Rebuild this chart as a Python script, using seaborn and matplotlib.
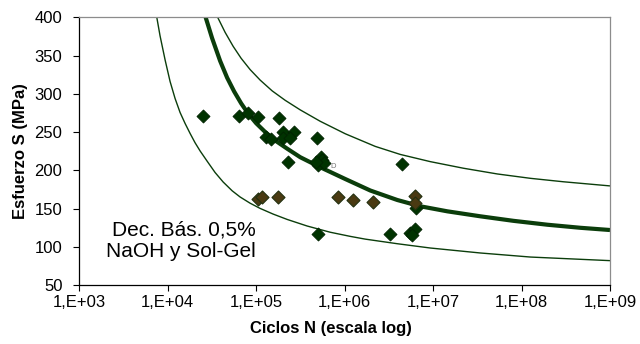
import matplotlib
matplotlib.use("Agg")
import matplotlib.pyplot as plt
import seaborn as sns
import pandas as pd

# ---------------- data ----------------
# measured specimens (dark green series)
green_N = [2.54e4, 6.49e4, 8.07e4, 1.04e5, 1.83e5, 1.30e5, 1.47e5, 2.01e5, 2.04e5,
           2.65e5, 2.43e5, 4.87e5, 2.29e5, 5.04e5, 5.41e5, 5.59e5, 5.89e5, 4.79e5,
           5.00e5, 4.46e6, 6.47e6, 3.23e6, 5.54e6, 6.31e6, 5.78e6]
green_S = [271, 271, 275, 270, 268, 244, 241, 250, 243,
           250, 243, 242, 211, 207, 218, 214, 210, 211,
           117, 208, 151, 117, 118, 123, 116]
# second series (brown)
brown_N = [1.04e5, 1.16e5, 1.75e5, 8.42e5, 1.26e6, 2.10e6, 6.31e6, 6.31e6]
brown_S = [163, 165, 165, 165, 162, 159, 166, 158]

# S-N curve (mean) and bounds
mean_N = [2.692e4, 3.184e4, 3.926e4, 4.710e4, 5.649e4, 6.776e4, 8.147e4, 1.002e5,
          1.268e5, 1.644e5, 2.249e5, 3.155e5, 5.309e5, 1.019e6, 1.954e6, 3.945e6,
          7.178e6, 1.452e7, 3.428e7, 8.091e7, 1.963e8, 4.634e8, 1.0e9]
mean_S = [400, 372.8, 343.0, 321.1, 303.2, 287.7, 274.2, 261.7,
          250.2, 239.1, 228.4, 217.3, 204.2, 188.8, 173.8, 161.4,
          153.2, 146.6, 140.1, 134.2, 129.1, 125.1, 122.2]
upper_N = [3.681e4, 4.467e4, 5.508e4, 6.776e4, 8.570e4, 1.112e5, 1.521e5, 2.133e5,
           3.155e5, 5.309e5, 1.019e6, 2.223e6, 4.266e6, 9.311e6, 2.203e7, 5.333e7,
           1.262e8, 2.979e8, 1.0e9]
upper_S = [400, 380.4, 362.1, 346.5, 331.7, 318.0, 303.9, 291.6,
           279.1, 264.2, 247.9, 231.4, 220.9, 211.5, 202.9, 195.4,
           189.7, 185.2, 179.8]
lower_N = [7.55e3, 8.22e3, 9.38e3, 1.067e4, 1.216e4, 1.384e4, 1.578e4, 1.799e4,
           2.046e4, 2.333e4, 2.799e4, 3.443e4, 4.246e4, 5.370e4, 6.607e4, 8.570e4,
           1.112e5, 1.560e5, 2.249e5, 3.784e5, 6.887e5, 1.159e6, 1.714e6, 3.945e6,
           9.311e6, 3.428e7, 1.262e8, 1.0e9]
lower_S = [400, 375.8, 344.2, 316.2, 293.9, 275.7, 261.3, 248.2,
           236.1, 225.4, 212.1, 197.3, 184.9, 173.4, 165.3, 157.2,
           150.4, 143.0, 136.0, 127.4, 119.3, 113.9, 110.3, 104.3,
           98.7, 92.2, 86.9, 82.2]

x_ticks = [1e3, 1e4, 1e5, 1e6, 1e7, 1e8, 1e9]
x_tick_labels = ["1,E+03", "1,E+04", "1,E+05", "1,E+06", "1,E+07", "1,E+08", "1,E+09"]
y_ticks = [50, 100, 150, 200, 250, 300, 350, 400]

annotation = "Dec. Bás. 0,5%\nNaOH y Sol-Gel"
x_label = "Ciclos N (escala log)"
y_label = "Esfuerzo S (MPa)"

# ---------------- style ----------------
sns.set_theme(style="white")
plt.rcParams["font.family"] = ["Liberation Sans", "DejaVu Sans"]

fig = plt.figure(figsize=(6.4, 3.44), dpi=100)
ax = fig.add_axes([79.1 / 640, 1 - 285.3 / 344, (610 - 79.1) / 640, (285.3 - 17.3) / 344])

green = "#003300"
curve_col = "#0b3d0b"

curves = [(lower_N, lower_S, 1.0), (upper_N, upper_S, 1.0), (mean_N, mean_S, 3.0)]
for cn, cs, lw in curves:
    df = pd.DataFrame({"N": cn, "S": cs})
    line_ax = sns.lineplot(data=df, x="N", y="S", sort=False, estimator=None, ax=ax,
                           color=curve_col, linewidth=lw, zorder=2)
for ln in ax.lines:
    ln.set_solid_joinstyle("round")
    ln.set_solid_capstyle("butt")

dg = pd.DataFrame({"N": green_N, "S": green_S})
db = pd.DataFrame({"N": brown_N, "S": brown_S})
sns.scatterplot(data=dg, x="N", y="S", ax=ax, marker="D", s=44,
                color=green, edgecolor="#002200", linewidth=0.6, zorder=3)
sns.scatterplot(data=db, x="N", y="S", ax=ax, marker="D", s=44,
                color="#4a3a12", edgecolor="#223010", linewidth=0.8, zorder=3)

ax.set_xscale("log")
ax.set_xlim(1e3, 1e9)
ax.set_ylim(50, 400)
ax.set_xticks(x_ticks)
ax.set_xticklabels(x_tick_labels)
ax.minorticks_off()
ax.set_yticks(y_ticks)
ax.set_yticklabels([str(v) for v in y_ticks])

ax.tick_params(axis="both", which="major", direction="out", length=4, width=0.8,
               color="black", labelsize=12, labelcolor="black")
ax.tick_params(axis="x", pad=3, bottom=True)
ax.tick_params(axis="y", pad=8, left=True)

for side in ["left", "bottom"]:
    ax.spines[side].set_color("black")
    ax.spines[side].set_linewidth(0.9)
for side in ["top", "right"]:
    ax.spines[side].set_color("#8c8c8c")
    ax.spines[side].set_linewidth(0.9)

ax.set_xlabel(x_label, fontsize=12, fontweight="bold", color="black")
ax.set_ylabel(y_label, fontsize=12, fontweight="bold", color="black")
ax.xaxis.set_label_coords((331 - 79.1) / 530.9, (285.3 - 328) / 268)
ax.yaxis.set_label_coords((20 - 79.1) / 530.9, 0.5)
ax.xaxis.label.set_verticalalignment("center")
ax.yaxis.label.set_verticalalignment("center")

ax.text((256 - 79.1) / 530.9, (285.3 - 240.5) / 268, annotation, transform=ax.transAxes,
        ha="right", va="center", multialignment="right", fontsize=15, color="black")
ax.text(6.9e5, 205, "D", fontsize=5.5, color="#777777", ha="left", va="center")

fig.savefig("out.png", dpi=100)
